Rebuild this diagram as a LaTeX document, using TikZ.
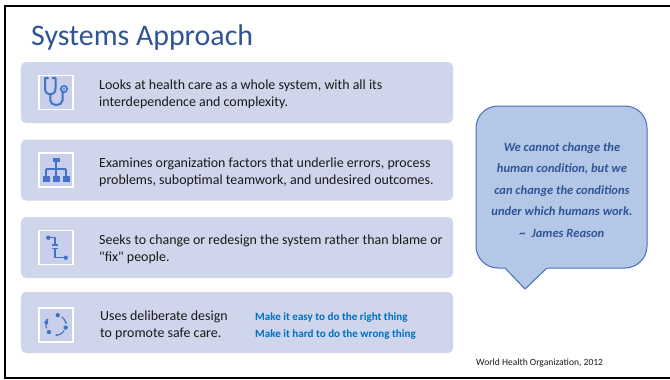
\documentclass[tikz,border=0pt]{standalone}
\usepackage{fontspec}
\setmainfont{Carlito}
\usetikzlibrary{arrows.meta}
\definecolor{boxfill}{RGB}{207,213,234}
\definecolor{iconfill}{RGB}{199,207,234}
\definecolor{iconblue}{RGB}{68,114,196}
\definecolor{titleblue}{RGB}{47,85,151}
\definecolor{bubblefill}{RGB}{180,199,231}
\definecolor{bubbleline}{RGB}{68,110,190}
\definecolor{quoteblue}{RGB}{47,85,151}
\definecolor{linkblue}{RGB}{0,112,192}
\definecolor{textcol}{RGB}{25,25,25}
\tikzset{
  rowbox/.style={fill=boxfill, rounded corners=5bp, minimum width=432bp, minimum height=61bp, inner sep=0pt, draw=none},
  iconbox/.style={fill=iconfill, draw=white, line width=1.2bp, minimum size=34bp, inner sep=0pt},
  bodytext/.style={anchor=base west, align=left, inner sep=0pt, text=textcol, font=\fontsize{14}{16.8}\selectfont},
  linktext/.style={anchor=base west, align=left, inner sep=0pt, text=linkblue, font=\bfseries\fontsize{11.1}{17.5}\selectfont},
  iconline/.style={draw=iconblue, line width=2bp, line cap=round, line join=round},
  icondot/.style={fill=iconblue},
  bubble/.style={fill=bubblefill, draw=bubbleline, line width=1bp},
}
\begin{document}
\begin{tikzpicture}[x=1bp,y=-1bp]
\useasboundingbox (0,0) rectangle (670,379);
\fill[white] (0,0) rectangle (670,379);
% frame
\draw[black, line width=2bp] (672,6) -- (5,6) -- (5,377.5) -- (672,377.5);
% title
\node[anchor=base west, inner sep=0pt, text=titleblue, font=\fontsize{30}{34}\selectfont] (title) at (31,45) {Systems Approach};
% row boxes
\node[rowbox] (b1) at (237,92.5) {};
\node[rowbox] (b2) at (237,170) {};
\node[rowbox] (b3) at (237,247.5) {};
\node[rowbox] (b4) at (237,322.5) {};
% icon boxes
\node[iconbox] (i1) at (56,92.5) {};
\node[iconbox] (i2) at (56,170) {};
\node[iconbox] (i3) at (56,247.5) {};
\node[iconbox] (i4) at (56,325) {};
% stethoscope
\begin{scope}[shift={(i1.center)}]
  \draw[iconline] (-8,-14.5) -- (-11,-14.5) -- (-11,-4) .. controls (-11,4) and (-0.5,4) .. (-0.5,-4) -- (-0.5,-14.5) -- (-3.5,-14.5);
  \draw[iconline] (-5.7,2) -- (-5.7,8) .. controls (-5.7,14) and (6.5,14) .. (6.5,8) -- (6.5,-0.5);
  \draw[iconline, line width=1.6bp] (8,-3.5) circle (3.2);
  \fill[icondot] (8,-3.5) circle (1.2);
\end{scope}
% hierarchy
\begin{scope}[shift={(i2.center)}]
  \fill[icondot] (-3.5,-12.5) rectangle (3.5,-8);
  \draw[iconblue, line width=1.3bp] (0,-8) -- (0,-1) (-10,-1) -- (10,-1) (-10,-1) -- (-10,6) (0,-1) -- (0,6) (10,-1) -- (10,6);
  \fill[icondot] (-13.5,6) rectangle (-6.5,11.5);
  \fill[icondot] (-3.5,6) rectangle (3.5,11.5);
  \fill[icondot] (6.5,6) rectangle (13.5,11.5);
\end{scope}
% process icon
\begin{scope}[shift={(i3.center)}]
  \draw[iconblue, line width=1.3bp] (-7.7,-9.8) -- (-1,-9.8) -- (-1,-2.5);
  \draw[iconblue, line width=1.3bp] (-4.3,-2.5) -- (2.3,-2.5) (-4.3,0.8) -- (2.3,0.8);
  \draw[iconblue, line width=1.3bp] (-1,0.8) -- (-1,10.2) -- (9.7,10.2);
  \fill[icondot] (-7.7,-9.8) circle (2.2);
  \fill[icondot] (9.7,10.2) circle (2.2);
\end{scope}
% cycle icon
\begin{scope}[shift={(i4.center)}]
  \draw[iconblue, line width=1.1bp, -{Stealth[length=2.5bp,width=2.5bp]}] (-55:10) arc[start angle=-55, end angle=-5, radius=10];
  \draw[iconblue, line width=1.1bp, -{Stealth[length=2.5bp,width=2.5bp]}] (35:10) arc[start angle=35, end angle=95, radius=10];
  \draw[iconblue, line width=1.1bp, -{Stealth[length=2.5bp,width=2.5bp]}] (160:10) arc[start angle=160, end angle=220, radius=10];
  \fill[icondot] (-80:10) circle (2.2);
  \fill[icondot] (15:10) circle (2.2);
  \fill[icondot] (135:10) circle (2.2);
  \fill[icondot] (195:10) circle (2);
\end{scope}
% body texts (base anchor = last line)
\node[bodytext] (t1) at (99,106) {Looks at health care as a whole system, with all its\\interdependence and complexity.};
\node[bodytext] (t2) at (99,184) {Examines organization factors that underlie errors, process\\problems, suboptimal teamwork, and undesired outcomes.};
\node[bodytext] (t3) at (99,261.5) {Seeks to change or redesign the system rather than blame or\\\textquotedbl fix\textquotedbl{} people.};
\node[bodytext] (t4) at (100,337.5) {Uses deliberate design\\to promote safe care.};
\node[linktext] (l4) at (255,337.5) {Make it easy to do the right thing\\Make it hard to do the wrong thing};
% bubble
\draw[bubble] (505,268) -- (525,289) -- (547,268) -- (625,268)
  arc[start angle=90, end angle=0, radius=22] -- (647,128)
  arc[start angle=0, end angle=-90, radius=22] -- (498,106)
  arc[start angle=-90, end angle=-180, radius=22] -- (476,246)
  arc[start angle=180, end angle=90, radius=22] -- cycle;
\node[anchor=base, align=center, inner sep=0pt, text=quoteblue, font=\bfseries\itshape\fontsize{12.6}{21.6}\selectfont] (quote) at (562,237.5)
  {We cannot change the\\human condition, but we\\can change the conditions\\under which humans work.\\\textasciitilde{}\ \ James Reason};
% footer
\node[anchor=base west, inner sep=0pt, text=textcol, font=\fontsize{9.6}{11}\selectfont] (foot) at (476,365) {World Health Organization,\ 2012};
\end{tikzpicture}
\end{document}
